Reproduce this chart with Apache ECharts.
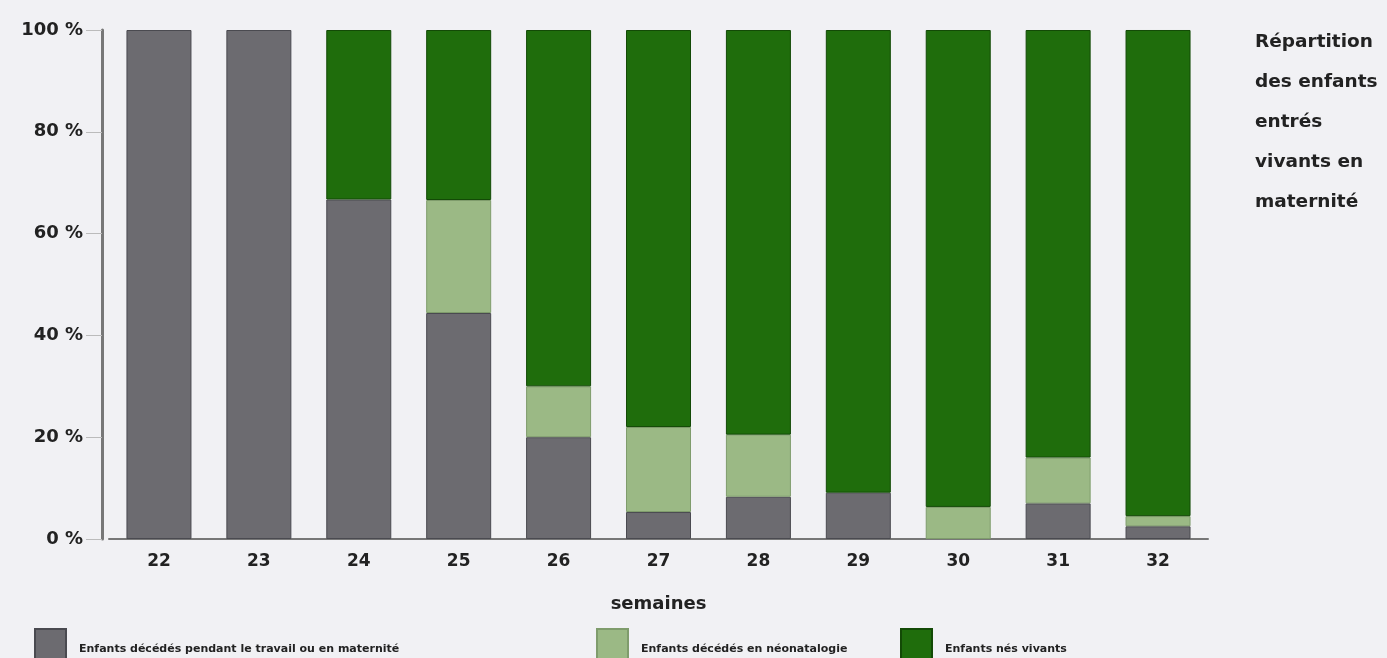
<!DOCTYPE html>
<html>
<head>
<meta charset="utf-8">
<script src="https://cdn.jsdelivr.net/npm/echarts@6/dist/echarts.min.js"></script>
<style>
  html, body { margin: 0; padding: 0; background: #f1f1f4; }
  #chart { width: 1387px; height: 658px; }
</style>
</head>
<body>
<div id="chart"></div>
<script>
// Weeks of gestation.
var weeks = ['22', '23', '24', '25', '26', '27', '28', '29', '30', '31', '32'];
// Shares (%) per week.
var deadLabour = [100, 100, 66.7, 44.4, 20, 5.3, 8.3, 9.1, 0, 7, 2.5];
var deadNeonat = [0, 0, 0, 22.2, 10, 16.7, 12.2, 0, 6.3, 9, 2];
var bornAlive = [0, 0, 33.3, 33.4, 70, 78, 79.5, 90.9, 93.7, 84, 95.5];

var seriesNames = [
  'Enfants décédés pendant le travail ou en maternité',
  'Enfants décédés en néonatalogie',
  'Enfants nés vivants'
];
var seriesColors = ['#6c6b70', '#9bb985', '#1f6d0c'];
var seriesBorders = ['#4a4a50', '#7f9c6c', '#134a06'];

var font = '"DejaVu Sans", Verdana, sans-serif';

var chart = echarts.init(document.getElementById('chart'), null, {renderer: 'canvas'});

function legendFor(i, left) {
  return {
    data: [seriesNames[i]],
    left: left,
    top: 628,
    padding: 0,
    itemWidth: 31,
    itemHeight: 31,
    itemGap: 0,
    selectedMode: false,
    icon: 'rect',
    formatter: '{t|{name}}',
    textStyle: {
      rich: {
        t: {
          fontFamily: font,
          fontWeight: 'bold',
          fontSize: 11,
          color: '#222',
          padding: [10, 0, 0, 8]
        }
      }
    }
  };
}

function barSeries(i, values) {
  return {
    name: seriesNames[i],
    type: 'bar',
    stack: 'total',
    barWidth: 65,
    // empty segments are not drawn
    data: values.map(function (v) { return v === 0 ? '-' : v; }),
    itemStyle: {
      color: seriesColors[i],
      borderColor: seriesBorders[i],
      borderWidth: 1
    }
  };
}

var option = {
  animation: false,
  backgroundColor: '#f1f1f4',
  title: {
    text: 'Répartition\ndes enfants\nentrés\nvivants en\nmaternité',
    left: 1250,
    top: 17,
    textStyle: {
      fontFamily: font,
      fontWeight: 'bold',
      fontSize: 18.5,
      lineHeight: 40,
      color: '#222'
    }
  },
  legend: [
    legendFor(0, 34),
    legendFor(1, 596),
    legendFor(2, 900)
  ],
  grid: {
    left: 109,
    right: 179,
    top: 30,
    bottom: 119
  },
  xAxis: {
    type: 'category',
    data: weeks,
    name: 'semaines',
    nameLocation: 'middle',
    nameGap: 56,
    nameTextStyle: {
      fontFamily: font,
      fontWeight: 'bold',
      fontSize: 18,
      color: '#222'
    },
    axisLine: {lineStyle: {color: '#777', width: 2}},
    axisTick: {show: false},
    axisLabel: {
      margin: 14,
      fontFamily: font,
      fontWeight: 'bold',
      fontSize: 17,
      color: '#222'
    }
  },
  yAxis: {
    type: 'value',
    min: 0,
    max: 100,
    interval: 20,
    offset: 7,
    axisLine: {show: true, lineStyle: {color: '#777', width: 3}},
    axisTick: {show: true, length: 16, lineStyle: {color: '#bbb'}},
    splitLine: {show: false},
    axisLabel: {
      margin: 19,
      formatter: '{value} %',
      fontFamily: font,
      fontWeight: 'bold',
      fontSize: 18,
      color: '#222'
    }
  },
  series: [
    barSeries(0, deadLabour),
    barSeries(1, deadNeonat),
    barSeries(2, bornAlive)
  ]
};

chart.setOption(option);
</script>
</body>
</html>
